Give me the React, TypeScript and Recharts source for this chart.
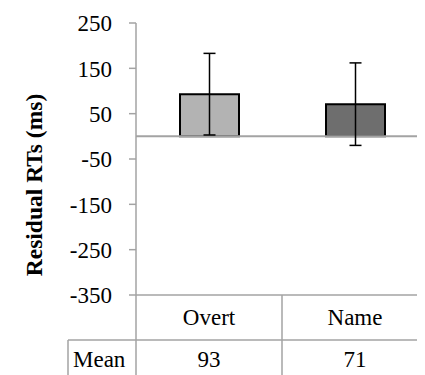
import { BarChart, Bar, XAxis, YAxis, Cell, ErrorBar, ReferenceLine, Label } from 'recharts';

const categories = ['Overt', 'Name'];
const means = [93, 71];
const errors = [90, 91];
const barColors = ['#b3b3b3', '#6e6e6e'];
const yTicks = [-350, -250, -150, -50, 50, 150, 250];

const data = categories.map((name, i) => ({ name, mean: means[i], err: errors[i] }));

const GRID = '#a3a3a3';
const FONT = 'Liberation Serif';
const CHART_W = 425;
const AXIS_W = 136;
const RIGHT = -3;
const BAND = (CHART_W - AXIS_W - RIGHT) / categories.length;

const YTick = (props: any) => {
  const { x, y, payload } = props;
  return (
    <text x={x} y={y} dy="0.36em" textAnchor="end" fill="#000" fontFamily={FONT} fontSize={23}>
      {payload.value}
    </text>
  );
};

// x-axis ticks double as the data table under the plot
const TableTick = (props: any) => {
  const { x, y, payload, index } = props;
  const half = BAND / 2;
  return (
    <g>
      <text x={x} y={y + 30} textAnchor="middle" fill="#000" fontFamily={FONT} fontSize={23}>
        {payload.value}
      </text>
      <text x={x} y={y + 72} textAnchor="middle" fill="#000" fontFamily={FONT} fontSize={23}>
        {means[index]}
      </text>
      <line x1={x - half} x2={x + half} y1={y + 45} y2={y + 45} stroke={GRID} strokeWidth={1.5} />
      <line x1={x + half} x2={x + half} y1={y} y2={y + 80} stroke={GRID} strokeWidth={1.5} />
      {index === 0 && (
        <g>
          <line x1={x - half} x2={x - half} y1={y} y2={y + 80} stroke={GRID} strokeWidth={1.5} />
          <line x1={x - half - 68} x2={x - half} y1={y + 45} y2={y + 45} stroke={GRID} strokeWidth={1.5} />
          <line x1={x - half - 68} x2={x - half - 68} y1={y + 45} y2={y + 80} stroke={GRID} strokeWidth={1.5} />
          <text x={x - half - 63} y={y + 72} fill="#000" fontFamily={FONT} fontSize={23}>
            Mean
          </text>
        </g>
      )}
    </g>
  );
};

const YLabel = (props: any) => {
  const { viewBox } = props;
  const cx = viewBox.x + 42;
  const cy = viewBox.y + viewBox.height / 2 + 26;
  return (
    <text
      x={cx}
      y={cy}
      transform={`rotate(-90 ${cx} ${cy})`}
      textAnchor="middle"
      fill="#000"
      fontFamily={FONT}
      fontSize={23.5}
      fontWeight="bold"
    >
      Residual RTs (ms)
    </text>
  );
};

export default function App() {
  return (
    <div style={{ position: 'relative', left: -8, top: -8, width: 425, height: 375, overflow: 'hidden', background: '#fff' }}>
      <div
        style={{
          position: 'absolute', left: 6, top: 7, width: 440, height: 400,
          borderTop: `1.5px solid ${GRID}`, borderLeft: `1.5px solid ${GRID}`,
        }}
      />
      <BarChart width={CHART_W} height={375} data={data} margin={{ top: 23, right: RIGHT, bottom: 0, left: 0 }}>
        <YAxis
          type="number"
          domain={[-350, 250]}
          ticks={yTicks}
          width={AXIS_W}
          tickSize={7}
          tickMargin={17}
          axisLine={{ stroke: GRID, strokeWidth: 1.5 }}
          tickLine={{ stroke: GRID, strokeWidth: 1.5 }}
          tick={<YTick />}
        >
          <Label content={<YLabel />} />
        </YAxis>
        <XAxis
          dataKey="name"
          height={80}
          tickSize={0}
          tickMargin={0}
          tickLine={false}
          axisLine={{ stroke: GRID, strokeWidth: 1.5 }}
          tick={<TableTick />}
          interval={0}
        />
        <ReferenceLine y={0} stroke={GRID} strokeWidth={2} />
        <Bar dataKey="mean" barSize={59} stroke="#000" strokeWidth={2} isAnimationActive={false}>
          {data.map((d, i) => (
            <Cell key={d.name} fill={barColors[i]} />
          ))}
          <ErrorBar dataKey="err" width={6} stroke="#000" strokeWidth={1.5} direction="y" isAnimationActive={false} />
        </Bar>
      </BarChart>
    </div>
  );
}
